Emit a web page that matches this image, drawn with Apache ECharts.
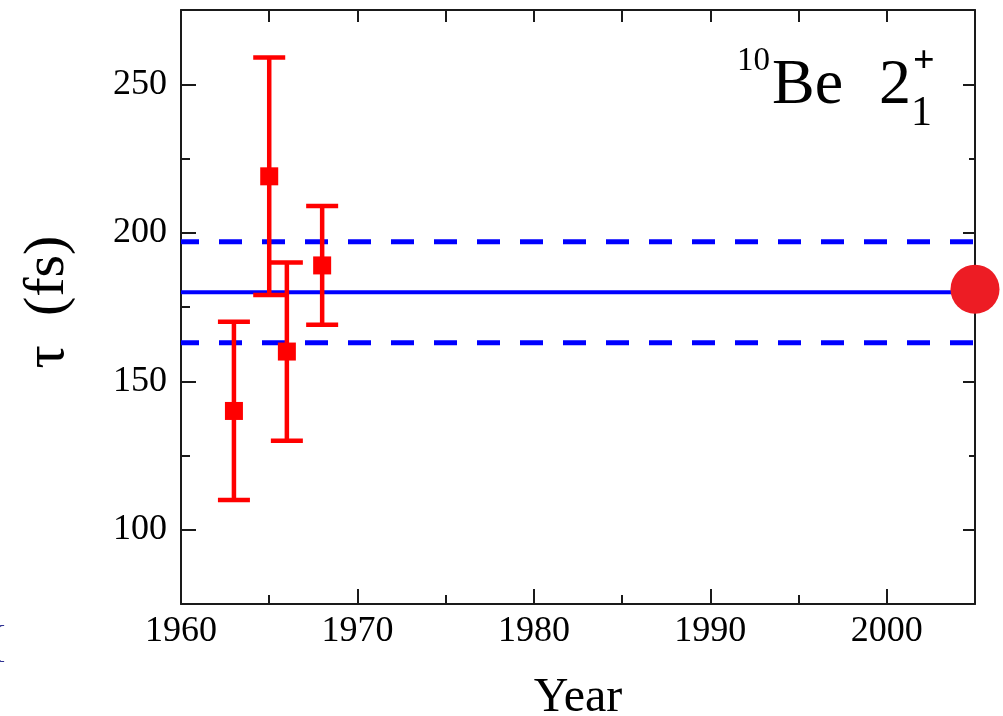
<!DOCTYPE html>
<html>
<head>
<meta charset="utf-8">
<script src="https://cdn.jsdelivr.net/npm/echarts@6/dist/echarts.min.js"></script>
<style>
html,body{margin:0;padding:0;background:#fff;}
#chart{width:1003px;height:716px;}
</style>
</head>
<body>
<div id="chart"></div>
<script>
// ---- data ----
const years = [1963, 1965, 1966, 1968];
const tau = [140, 219, 160, 189];
const errUp = [30, 40, 30, 20];
const errDown = [30, 40, 30, 20];
const adoptedMean = 180;
const adoptedErr = 17;
const newPoint = [2005, 181];
const xRange = [1960, 2005];
const yRange = [75, 275];
const xTickLabels = [1960, 1970, 1980, 1990, 2000];
const yTickLabels = [100, 150, 200, 250];
const xMinorStep = 5;
const yMinorStep = 25;

const FONT = '"Liberation Serif", "Times New Roman", serif';
const AX = '#1a1a1a';

const errData = years.map((y, i) => [y, tau[i] - errDown[i], tau[i] + errUp[i]]);
const ptData = years.map((y, i) => [y, tau[i]]);

const chart = echarts.init(document.getElementById('chart'), null, {renderer: 'canvas'});

const baseX = {type: 'value', min: xRange[0], max: xRange[1], splitLine: {show: false}};
const baseY = {type: 'value', min: yRange[0], max: yRange[1], splitLine: {show: false}};
const plain = v => String(v);

const option = {
  backgroundColor: '#ffffff',
  animation: false,
  grid: {left: 181, right: 28, top: 10, bottom: 112, containLabel: false, outerBoundsMode: 'none'},
  xAxis: [
    Object.assign({}, baseX, {
      position: 'bottom',
      axisLine: {show: true, lineStyle: {color: AX, width: 2}},
      axisTick: {show: true, inside: true, length: 15, lineStyle: {color: AX, width: 2}, customValues: xTickLabels},
      axisLabel: {show: true, customValues: xTickLabels, formatter: plain, fontFamily: FONT, fontSize: 36, color: '#000', margin: 10},
      name: 'Year', nameLocation: 'middle', nameGap: 70,
      nameTextStyle: {fontFamily: FONT, fontSize: 48, color: '#000'}
    }),
    Object.assign({}, baseX, {
      position: 'bottom', interval: xMinorStep,
      axisLine: {show: false},
      axisTick: {show: true, inside: true, length: 9, lineStyle: {color: AX, width: 2}},
      axisLabel: {show: false}
    }),
    Object.assign({}, baseX, {
      position: 'top', interval: xMinorStep,
      axisLine: {show: true, lineStyle: {color: AX, width: 2}},
      axisTick: {show: true, inside: true, length: 12, lineStyle: {color: AX, width: 2}},
      axisLabel: {show: false}
    })
  ],
  yAxis: [
    Object.assign({}, baseY, {
      position: 'left',
      axisLine: {show: true, lineStyle: {color: AX, width: 2}},
      axisTick: {show: true, inside: true, length: 15, lineStyle: {color: AX, width: 2}, customValues: yTickLabels},
      axisLabel: {show: true, customValues: yTickLabels, formatter: plain, fontFamily: FONT, fontSize: 36, color: '#000', margin: 14},
      name: 'τ  (fs)', nameLocation: 'middle', nameGap: 104, nameRotate: 90,
      nameTextStyle: {fontFamily: FONT, fontSize: 58, color: '#000', padding: [0, 0, 0, 10]}
    }),
    Object.assign({}, baseY, {
      position: 'left', interval: yMinorStep,
      axisLine: {show: false},
      axisTick: {show: true, inside: true, length: 9, lineStyle: {color: AX, width: 2}},
      axisLabel: {show: false}
    }),
    Object.assign({}, baseY, {
      position: 'right',
      axisLine: {show: true, lineStyle: {color: AX, width: 2}},
      axisTick: {show: true, inside: true, length: 12, lineStyle: {color: AX, width: 2}, customValues: yTickLabels},
      axisLabel: {show: false}
    }),
    Object.assign({}, baseY, {
      position: 'right', interval: yMinorStep,
      axisLine: {show: false},
      axisTick: {show: true, inside: true, length: 6, lineStyle: {color: AX, width: 2}},
      axisLabel: {show: false}
    })
  ],
  series: [
    {
      type: 'line', xAxisIndex: 0, yAxisIndex: 0, symbol: 'none', silent: true, z: 2,
      data: [[xRange[0], adoptedMean], [xRange[1], adoptedMean]],
      lineStyle: {color: '#0000ff', width: 4}
    },
    {
      type: 'line', xAxisIndex: 0, yAxisIndex: 0, symbol: 'none', silent: true, z: 2,
      data: [[xRange[0], adoptedMean + adoptedErr], [xRange[1], adoptedMean + adoptedErr]],
      lineStyle: {color: '#0000ff', width: 5, type: [23, 20], dashOffset: 5}
    },
    {
      type: 'line', xAxisIndex: 0, yAxisIndex: 0, symbol: 'none', silent: true, z: 2,
      data: [[xRange[0], adoptedMean - adoptedErr], [xRange[1], adoptedMean - adoptedErr]],
      lineStyle: {color: '#0000ff', width: 5, type: [23, 20], dashOffset: 5}
    },
    {
      type: 'custom', xAxisIndex: 0, yAxisIndex: 0, z: 5,
      data: errData,
      renderItem: function (params, api) {
        const x = api.value(0);
        const pLo = api.coord([x, api.value(1)]);
        const pHi = api.coord([x, api.value(2)]);
        const half = 16;
        const st = {stroke: '#ff0000', lineWidth: 4.5};
        return {
          type: 'group',
          children: [
            {type: 'line', shape: {x1: pHi[0], y1: pHi[1], x2: pLo[0], y2: pLo[1]}, style: st},
            {type: 'line', shape: {x1: pHi[0] - half, y1: pHi[1], x2: pHi[0] + half, y2: pHi[1]}, style: st},
            {type: 'line', shape: {x1: pLo[0] - half, y1: pLo[1], x2: pLo[0] + half, y2: pLo[1]}, style: st}
          ]
        };
      }
    },
    {
      type: 'scatter', xAxisIndex: 0, yAxisIndex: 0, z: 6,
      symbol: 'rect', symbolSize: 18,
      itemStyle: {color: '#ff0000', opacity: 1},
      data: ptData
    },
    {
      type: 'scatter', xAxisIndex: 0, yAxisIndex: 0, z: 7, clip: false,
      symbol: 'circle', symbolSize: 49,
      itemStyle: {color: '#ed1c24', opacity: 1},
      data: [newPoint]
    }
  ],
  graphic: [
    {type: 'text', x: 737, y: 61, z: 10, style: {text: '10', font: '33px ' + FONT, fill: '#000', verticalAlign: 'middle'}},
    {type: 'text', x: 772, y: 86, z: 10, style: {text: 'Be', font: '64px ' + FONT, fill: '#000', verticalAlign: 'middle'}},
    {type: 'text', x: 879, y: 86, z: 10, style: {text: '2', font: '64px ' + FONT, fill: '#000', verticalAlign: 'middle'}},
    {type: 'text', x: 913, y: 62, z: 10, style: {text: '+', font: 'bold 38px ' + FONT, fill: '#000', verticalAlign: 'middle'}},
    {type: 'text', x: 911, y: 114, z: 10, style: {text: '1', font: '42px ' + FONT, fill: '#000', verticalAlign: 'middle'}},
    {type: 'text', x: -13, y: 644, z: 10, style: {text: '{', font: '44px ' + FONT, fill: '#2e3192', verticalAlign: 'middle'}}
  ]
};
chart.setOption(option);
</script>
</body>
</html>
